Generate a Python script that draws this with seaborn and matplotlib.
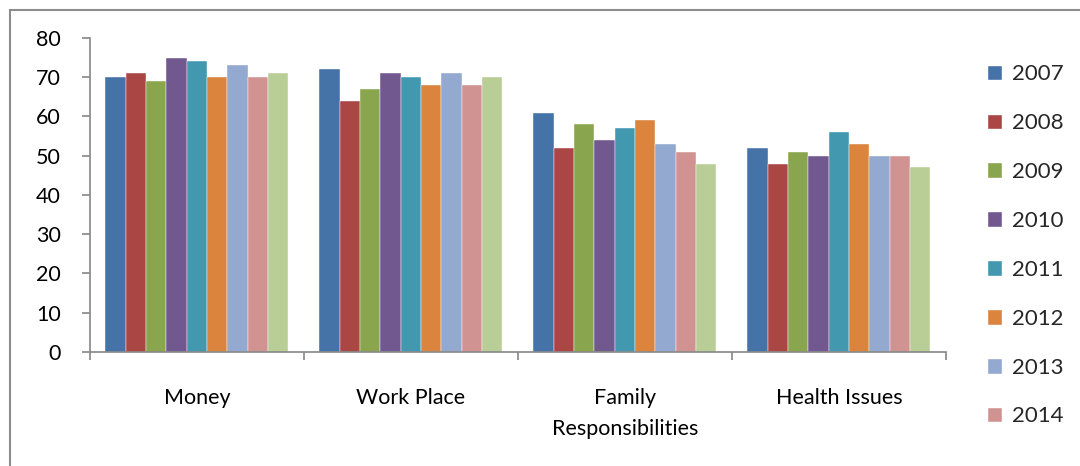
import matplotlib.pyplot as plt
from matplotlib.patches import Rectangle, Patch
import seaborn as sns
import pandas as pd

categories = ['Money', 'Work Place', 'Family\nResponsibilities', 'Health Issues']
years = ['2007', '2008', '2009', '2010', '2011', '2012', '2013', '2014', '2015']
values = {
    '2007': [70, 72, 61, 52],
    '2008': [71, 64, 52, 48],
    '2009': [69, 67, 58, 51],
    '2010': [75, 71, 54, 50],
    '2011': [74, 70, 57, 56],
    '2012': [70, 68, 59, 53],
    '2013': [73, 71, 53, 50],
    '2014': [70, 68, 51, 50],
    '2015': [71, 70, 48, 47],
}
colors = ['#4572A7', '#AA4643', '#89A54E', '#71588F', '#4198AF',
          '#DB843D', '#93A9CF', '#D19392', '#B9CD96']
legend_years = years[:8]  # last series is cut off in the legend

sns.set_theme(style='white')
plt.rcParams['font.family'] = ['Lato', 'DejaVu Sans']

df = pd.DataFrame([
    [cat, yr, values[yr][i]] for yr in years for i, cat in enumerate(categories)
], columns=['category', 'year', 'value'])

fig = plt.figure(figsize=(10.8, 4.66), dpi=100)
ax = fig.add_axes([0.0833, 0.2446, 0.7926, 0.674])

sns.barplot(data=df, x='category', y='value', hue='year', order=categories,
            hue_order=years, palette=colors, saturation=1, width=0.855, gap=0,
            edgecolor='white', linewidth=0.3, legend=False, ax=ax)

ax.set_xlim(-0.5, 3.5)
ax.set_ylim(0, 80)
ax.set_yticks(range(0, 81, 10))
ax.set_xlabel('')
ax.set_ylabel('')
for s in ['top', 'right']:
    ax.spines[s].set_visible(False)
for s in ['left', 'bottom']:
    ax.spines[s].set_color('#868686')
    ax.spines[s].set_linewidth(1.2)
ax.tick_params(axis='y', left=True, length=6, width=1.2, color='#868686',
               labelsize=15.5, labelcolor='black', pad=15)
ax.set_xticks([-0.5, 0.5, 1.5, 2.5, 3.5], minor=True)
ax.tick_params(axis='x', which='minor', bottom=True, length=6, width=1.2,
               color='#868686')
ax.tick_params(axis='x', which='major', bottom=False, labelsize=15.5,
               labelcolor='black', pad=20)
for lbl in ax.get_xticklabels():
    lbl.set_linespacing(1.7)

handles = [Patch(facecolor=c) for c in colors[:8]]
fig.legend(handles, legend_years, loc='upper left', bbox_to_anchor=(0.895, 0.905),
           frameon=False, fontsize=16, handlelength=0.7, handleheight=0.7,
           handletextpad=0.45, labelspacing=1.3)

fig.patches.append(Rectangle((0.009, -0.1), 1.2, 1.0785, transform=fig.transFigure,
                             fill=False, edgecolor='#8c8c8c', linewidth=1.5))

fig.savefig('out.png', dpi=100)
